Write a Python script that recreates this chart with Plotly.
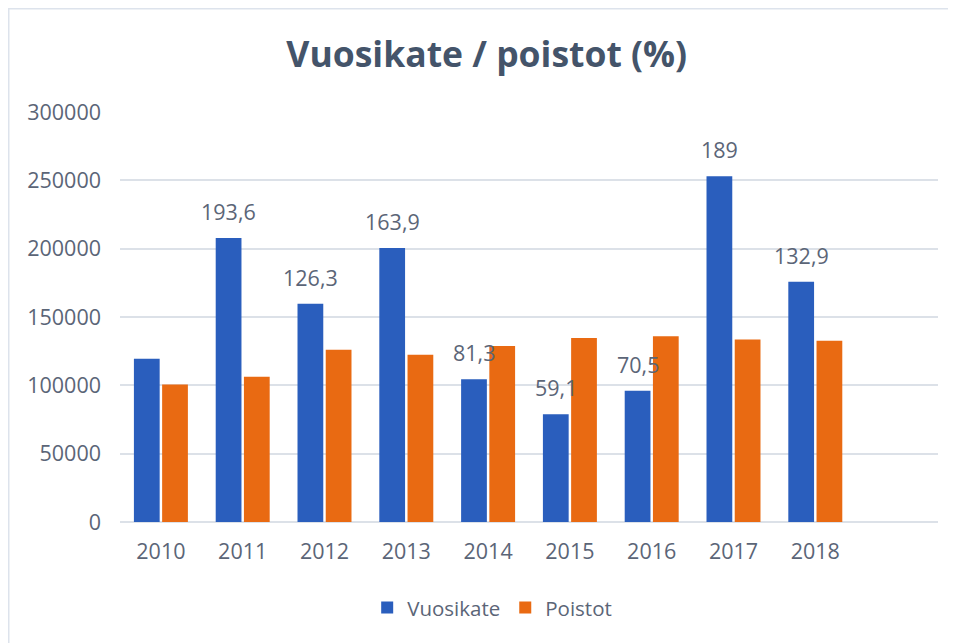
import plotly.graph_objects as go

years = ["2010", "2011", "2012", "2013", "2014", "2015", "2016", "2017", "2018"]
vuosikate = [119500, 207800, 159700, 200400, 104500, 78900, 96000, 252900, 175800]
poistot = [100700, 106300, 126000, 122400, 128700, 134600, 136000, 133600, 132600]
ratio_labels = ["", "193,6", "126,3", "163,9", "81,3", "59,1", "70,5", "189", "132,9"]

TICK_COLOR = "#5B6577"
TITLE_COLOR = "#44546A"
FONT = "Open Sans"

fig = go.Figure()
fig.add_trace(go.Bar(x=years, y=vuosikate, name="Vuosikate",
                     marker=dict(color="#2A5EBD", line=dict(width=0))))
fig.add_trace(go.Bar(x=years, y=poistot, name="Poistot",
                     marker=dict(color="#E96A12", line=dict(width=0))))

for i, (v, lab) in enumerate(zip(vuosikate, ratio_labels)):
    if lab:
        fig.add_annotation(x=i, y=v, xref="x", yref="y", text=lab, showarrow=False,
                           xshift=-14, yshift=10, yanchor="bottom", xanchor="center",
                           font=dict(family=FONT, size=21.5, color=TICK_COLOR))

fig.add_shape(type="rect", xref="paper", yref="paper",
              x0=-0.1363, x1=1.2, y0=-0.4, y1=1.2527,
              line=dict(color="#DDE3EC", width=2), fillcolor="rgba(0,0,0,0)",
              layer="below")

fig.update_layout(
    width=948, height=635,
    margin=dict(l=112, r=18, t=104, b=121, pad=0),
    paper_bgcolor="white", plot_bgcolor="white",
    barmode="group", bargap=0.31, bargroupgap=0.087,
    title=dict(text="<b>Vuosikate / poistot (%)</b>", x=0.505, xanchor="center",
               y=1 - 47 / 635, yanchor="middle",
               font=dict(family=FONT, size=35.5, color=TITLE_COLOR)),
    font=dict(family=FONT, size=21.5, color=TICK_COLOR),
    legend=dict(orientation="h", x=0.455, xanchor="center", y=-0.209, yanchor="middle",
                font=dict(family=FONT, size=20.5, color=TICK_COLOR),
                itemsizing="constant", traceorder="normal"),
    showlegend=True,
)
fig.update_xaxes(type="category", categoryorder="array", categoryarray=years,
                 range=[-0.5, 9.5], showgrid=False, showline=False, zeroline=False,
                 ticks="", ticklabelstandoff=14,
                 tickfont=dict(family=FONT, size=21.5, color=TICK_COLOR))
fig.update_yaxes(range=[0, 300000], dtick=50000, tickformat="d",
                 showgrid=True, gridcolor="#DCE1E8", gridwidth=2,
                 zeroline=True, zerolinecolor="#DCE1E8", zerolinewidth=2,
                 showline=False, ticks="", ticklabelstandoff=18,
                 tickfont=dict(family=FONT, size=21.5, color=TICK_COLOR))

fig.write_html("out.html")
